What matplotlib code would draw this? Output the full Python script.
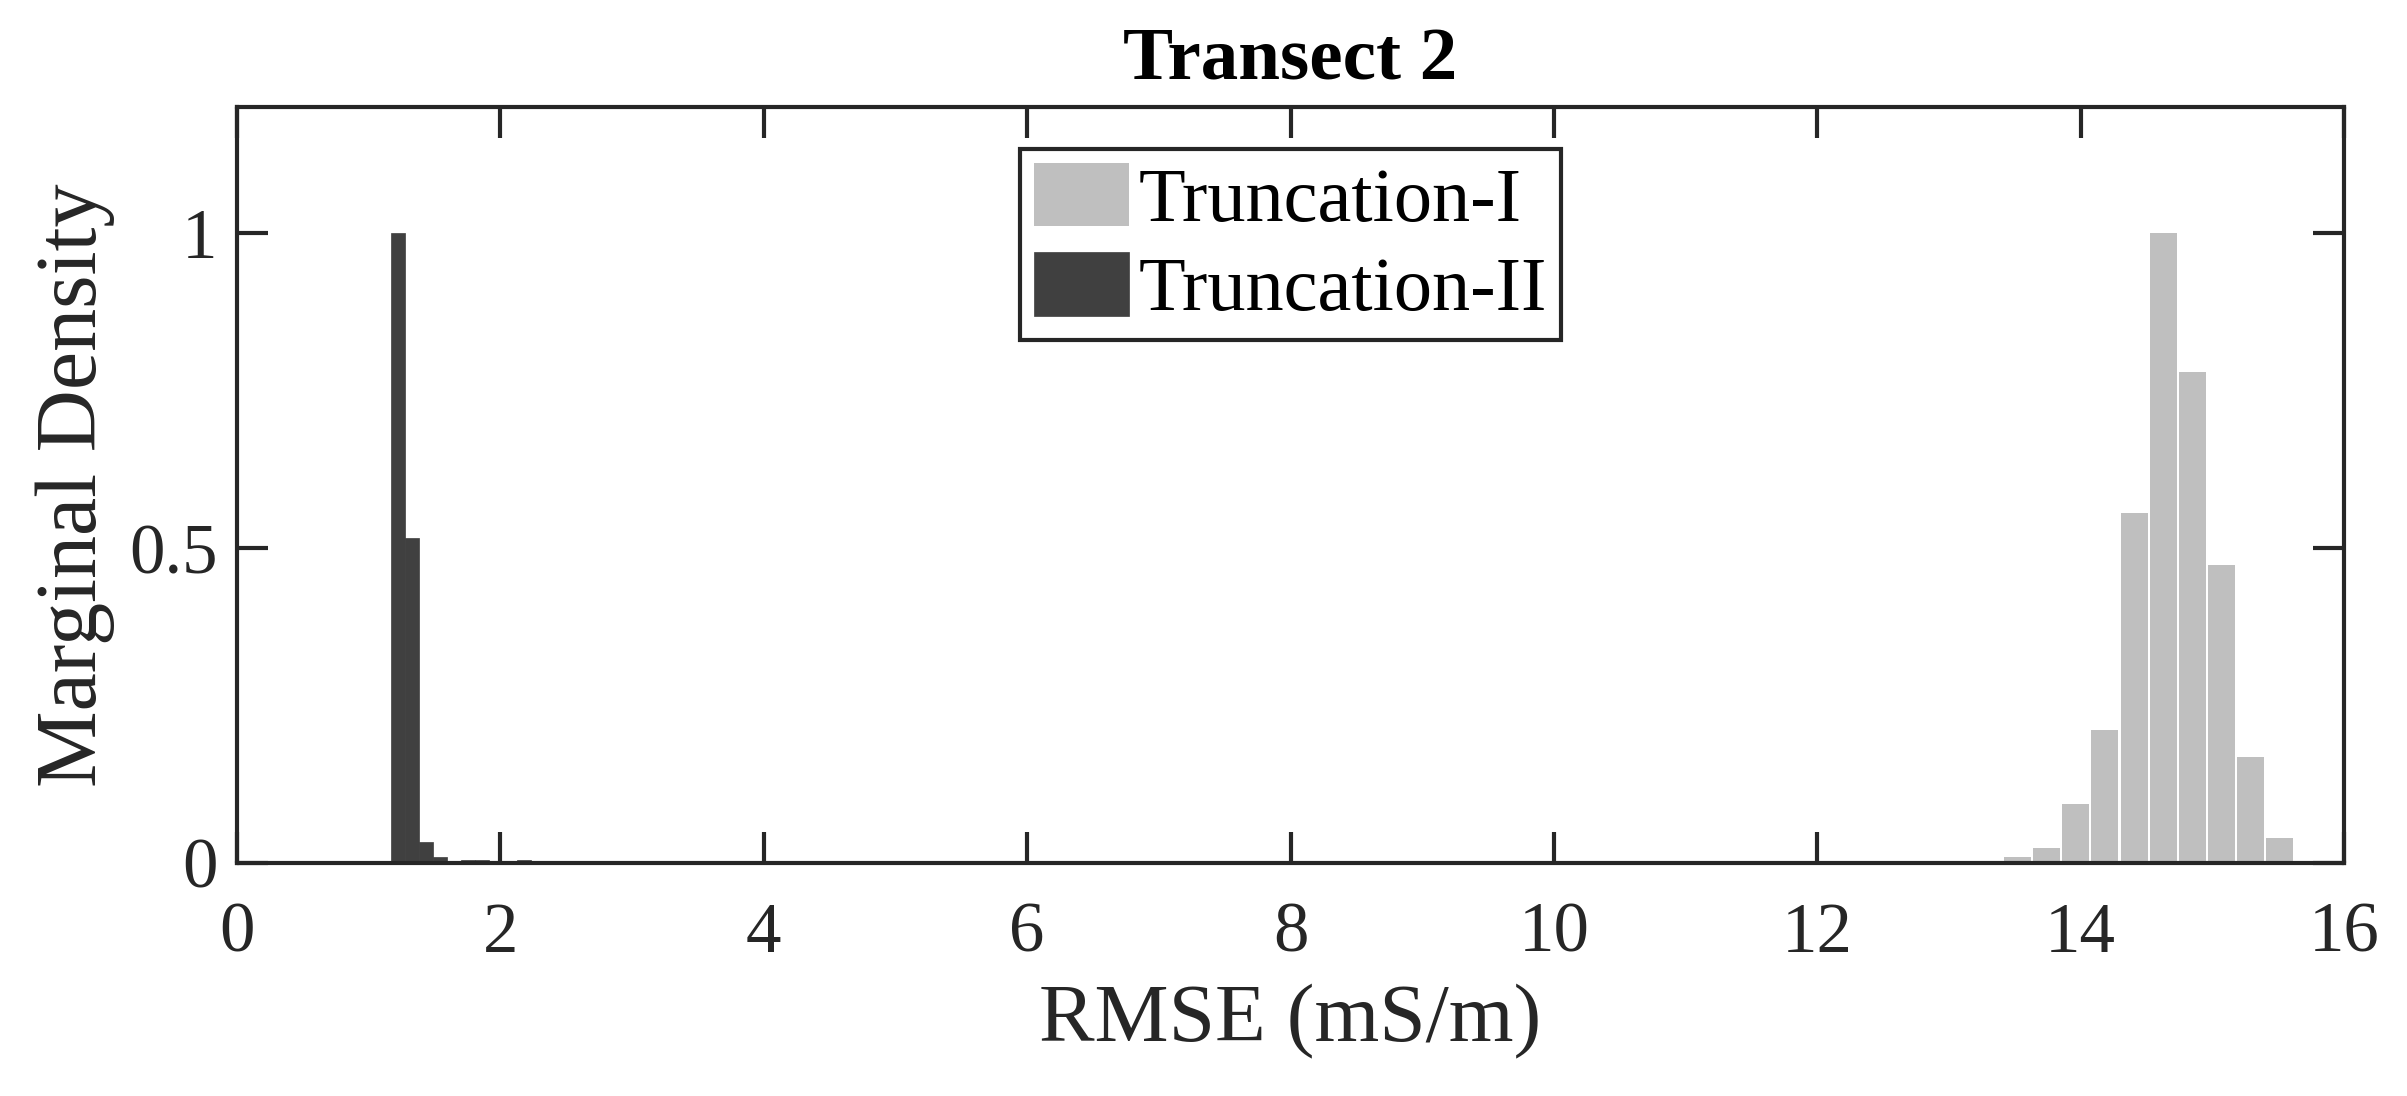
import matplotlib
matplotlib.use("Agg")
import matplotlib.pyplot as plt
import numpy as np

# Data
trunc1_centers = [13.52, 13.74, 13.96, 14.18, 14.41, 14.63, 14.85, 15.07, 15.29, 15.51]
trunc1_density = [0.009, 0.024, 0.094, 0.211, 0.556, 1.0, 0.779, 0.473, 0.168, 0.040]
trunc2_centers = [1.225, 1.331, 1.437, 1.543, 1.649, 1.755, 1.861, 1.967, 2.073, 2.179]
trunc2_density = [1.0, 0.516, 0.034, 0.009, 0.003, 0.004, 0.004, 0.003, 0.003, 0.004]
xticks = [0, 2, 4, 6, 8, 10, 12, 14, 16]
yticks = [0, 0.5, 1]
ytick_labels = ["0", "0.5", "1"]

plt.rcParams['font.family'] = ['Liberation Serif', 'DejaVu Serif']
axc = '#262626'

fig = plt.figure(figsize=(24.07, 10.96), dpi=100)
ax = fig.add_axes([237/2407, 1 - 863/1096, (2344-237)/2407, (863-107)/1096])

w1 = 0.2216 * 0.915
w2 = 0.106
ax.bar(trunc1_centers, trunc1_density, width=w1, color='#bfbfbf', edgecolor='none',
       label='Truncation-I', zorder=2)
ax.bar(trunc2_centers, trunc2_density, width=w2, color='#404040', edgecolor='#404040',
       linewidth=0.5, label='Truncation-II', zorder=2)

ax.set_xlim(0, 16)
ax.set_ylim(0, 1.2)
ax.set_xticks(xticks)
ax.set_xticklabels([str(t) for t in xticks])
ax.set_yticks(yticks)
ax.set_yticklabels(ytick_labels)

for s in ax.spines.values():
    s.set_color(axc)
    s.set_linewidth(3)
ax.tick_params(direction='in', length=22, width=3, colors=axc, labelsize=51,
               top=True, right=True)
ax.tick_params(axis='x', pad=28)
ax.tick_params(axis='y', pad=14)
for lab in ax.get_xticklabels() + ax.get_yticklabels():
    lab.set_color(axc)

ax.set_xlabel('RMSE (mS/m)', fontsize=60, color=axc, labelpad=12)
ax.set_ylabel('Marginal Density', fontsize=62, color=axc, labelpad=10)
ax.set_title('Transect 2', fontsize=54, fontweight='bold', color='black', pad=20)

leg = ax.legend(loc='upper center', bbox_to_anchor=(0.5, 0.944), fontsize=55,
                frameon=True, fancybox=False, framealpha=1, handlelength=1.25,
                handleheight=0.9, handletextpad=0.12, labelspacing=0.2,
                borderpad=0.18, borderaxespad=0)
leg.get_frame().set_edgecolor(axc)
leg.get_frame().set_linewidth(3)

fig.savefig('out.png', dpi=100, facecolor='white')
